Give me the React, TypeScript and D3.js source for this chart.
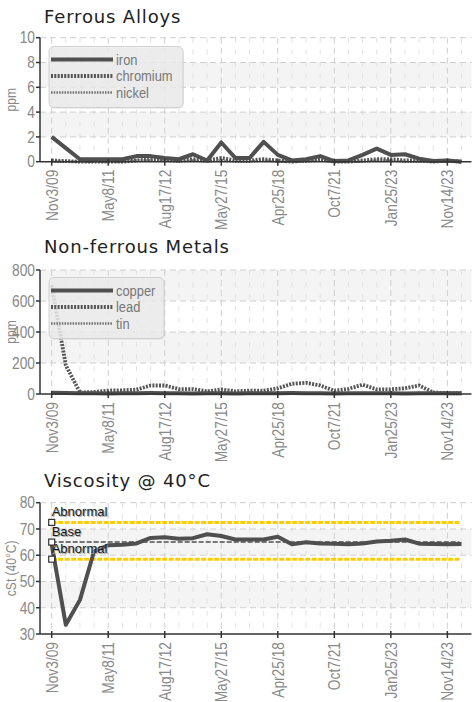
import React from 'react';
import * as d3 from 'd3';

// category axis: one sample per index, label on every 4th
const tickLabels = ['Nov3/09', 'May8/11', 'Aug17/12', 'May27/15', 'Apr25/18', 'Oct7/21', 'Jan25/23', 'Nov14/23'];
const tickEvery = 4;

const iron = [2.0, 1.1, 0.2, 0.2, 0.2, 0.2, 0.45, 0.45, 0.3, 0.2, 0.6, 0.1, 1.55, 0.3, 0.3, 1.6, 0.55, 0.1, 0.2, 0.45, 0.05, 0.1, 0.55, 1.05, 0.55, 0.6, 0.25, 0.05, 0.1, 0];
const chromium = [0.1, 0.05, 0, 0, 0, 0, 0.1, 0.2, 0.2, 0.1, 0.2, 0.1, 0.3, 0.1, 0.1, 0.2, 0.1, 0, 0.1, 0.2, 0, 0, 0.1, 0.2, 0.2, 0.1, 0.1, 0, 0.1, 0];
const nickel = [0, 0, 0, 0, 0, 0, 0.1, 0.1, 0.1, 0, 0.1, 0, 0.1, 0, 0, 0.1, 0, 0, 0, 0.1, 0, 0, 0, 0.1, 0.1, 0, 0, 0, 0, 0];

const copper = [8, 6, 5, 5, 4, 5, 5, 6, 5, 5, 4, 5, 5, 4, 5, 5, 5, 6, 5, 5, 4, 5, 5, 5, 5, 4, 5, 5, 5, 5];
const lead = [700, 185, 10, 13, 22, 24, 28, 55, 55, 32, 32, 17, 30, 17, 22, 21, 37, 66, 72, 55, 21, 33, 60, 30, 30, 37, 55, 10, 5, 5];
const tin = [5, 3, 2, 2, 2, 2, 3, 4, 3, 2, 2, 2, 3, 2, 2, 2, 3, 4, 4, 3, 2, 2, 3, 2, 2, 2, 3, 2, 2, 2];

const viscosity = [64, 33.5, 43, 61.5, 63.8, 64, 64.5, 66.6, 66.8, 66.3, 66.5, 68, 67.3, 66, 66, 66, 67, 64.2, 64.9, 64.5, 64.4, 64.2, 64.5, 65.2, 65.5, 66, 64.4, 64.3, 64.2, 64.3];
const viscLimits = [
  { name: 'Abnormal', value: 72.5, kind: 'limit' },
  { name: 'Base', value: 65, kind: 'base' },
  { name: 'Abnormal', value: 58.5, kind: 'limit' },
];

// no narrow font installed, so squeeze Liberation Sans along the text direction
const narrow = '"Liberation Sans", Arial, sans-serif';
const squeeze = 0.86;

const styles: Record<string, { w: number; dash?: string; color: string }> = {
  solid: { w: 4, color: '#4f4f4f' },
  dots: { w: 3.8, dash: '2,1.3', color: '#555' },
  thin: { w: 2.4, dash: '1.5,1.2', color: '#707070' },
};

const x = d3.scaleLinear().domain([0, 29]).range([51.7, 461.5]);
const axisLeft = 40;
const axisRight = 471.5;
const n = iron.length;

interface Series { name: string; values: number[]; style: string }

interface PanelProps {
  title: string;
  titleY: number;
  top: number;
  bottom: number;
  domain: [number, number];
  step: number;
  yLabel: string;
  series: Series[];
  legend?: { top: number; width: number };
  limits?: typeof viscLimits;
}

const Panel: React.FC<PanelProps> = ({ title, titleY, top, bottom, domain, step, yLabel, series, legend, limits }) => {
  const y = d3.scaleLinear().domain(domain).range([bottom, top]);
  const ticks = d3.range(domain[0], domain[1] + step / 2, step);
  const line = d3.line<number>().x((_, i) => x(i)).y(d => y(d));
  const idx = d3.range(n);

  return (
    <g>
      <text x={44} y={titleY} fontFamily="DejaVu Sans, sans-serif" fontSize={18} letterSpacing={0.85} fill="#222">{title}</text>
      {/* alternating bands */}
      {ticks.slice(0, -1).map((t, i) => i % 2 === 1 ? (
        <rect key={'b' + i} x={axisLeft} y={y(t + step)} width={axisRight - axisLeft} height={y(t) - y(t + step)} fill="#f4f4f4" />
      ) : null)}
      {/* minor vertical grid */}
      {idx.filter(i => i % tickEvery !== 0).map(i => (
        <line key={'m' + i} x1={x(i)} x2={x(i)} y1={top} y2={bottom} stroke="#e2e2e2" strokeDasharray="5,7" />
      ))}
      {tickLabels.map((_, k) => (
        <line key={'v' + k} x1={x(k * tickEvery)} x2={x(k * tickEvery)} y1={top} y2={bottom} stroke="#cfcfcf" strokeDasharray="6,4" />
      ))}
      {ticks.slice(1).map(t => (
        <line key={'h' + t} x1={axisLeft} x2={axisRight} y1={y(t)} y2={y(t)} stroke="#cfcfcf" strokeDasharray="6,4" />
      ))}
      {/* reference lines */}
      {limits && limits.map((l, i) => (
        <line key={'l' + i} x1={x(0)} x2={x(n - 1) - 2} y1={y(l.value)} y2={y(l.value)}
          stroke={l.kind === 'base' ? '#777' : '#ffcc00'} strokeWidth={l.kind === 'base' ? 2 : 3}
          strokeDasharray={l.kind === 'base' ? '5,2' : '5,1.5'} />
      ))}
      {/* series */}
      {series.slice().reverse().map(s => {
        const st = styles[s.style];
        return (
          <path key={s.name} d={line(s.values) || ''} fill="none" stroke={st.color} strokeWidth={st.w}
            strokeDasharray={st.dash} strokeLinejoin="round" />
        );
      })}
      {limits && limits.map((l, i) => (
        <g key={'lm' + i}>
          <rect x={x(0) - 3} y={y(l.value) - 3} width={6} height={6} fill="#fff" stroke="#333" strokeWidth={1.2} />
          <text x={x(0) + 1} y={y(l.value) - 5} fontFamily={narrow} fontSize={13} fill="#aaa">{l.name}</text>
          <text x={x(0)} y={y(l.value) - 6} fontFamily={narrow} fontSize={13} fill="#1a1a1a">{l.name}</text>
        </g>
      ))}
      {/* axes */}
      <line x1={axisLeft} x2={axisLeft} y1={top} y2={bottom} stroke="#333" strokeWidth={1.5} />
      <line x1={axisLeft} x2={axisRight} y1={bottom} y2={bottom} stroke="#333" strokeWidth={1.5} />
      {ticks.map(t => (
        <g key={'yt' + t}>
          <line x1={axisLeft - 4} x2={axisLeft} y1={y(t)} y2={y(t)} stroke="#333" strokeWidth={1.5} />
          <text transform={`translate(${axisLeft - 5},${y(t)}) scale(${squeeze},1)`} dy="0.36em" textAnchor="end"
            fontFamily={narrow} fontSize={16} fill="#888">{t}</text>
        </g>
      ))}
      {tickLabels.map((lab, k) => {
        const px = x(k * tickEvery);
        return (
          <g key={'xt' + k}>
            <line x1={px} x2={px} y1={bottom - 3} y2={bottom + 4} stroke="#333" strokeWidth={1.5} />
            <text transform={`translate(${px + 5.8},${bottom + 8}) rotate(-90) scale(${squeeze},1)`} textAnchor="end"
              fontFamily={narrow} fontSize={16} fill="#888">{lab}</text>
          </g>
        );
      })}
      <text transform={`translate(16,${(top + bottom) / 2}) rotate(-90) scale(${squeeze},1)`} textAnchor="middle"
        fontFamily={narrow} fontSize={14} fill="#888">{yLabel}</text>
      {/* legend */}
      {legend && (
        <g>
          <rect x={50} y={legend.top + 1.5} width={legend.width} height={61} rx={5} fill="#ccc" opacity={0.35} />
          <rect x={49} y={legend.top} width={legend.width} height={61} rx={5} fill="#ececec" fillOpacity={0.78} stroke="#d0d0d0" />
          {series.map((s, i) => {
            const st = styles[s.style];
            const ry = legend.top + 13 + i * 16.5;
            return (
              <g key={'lg' + s.name}>
                <line x1={51} x2={113} y1={ry} y2={ry} stroke={st.color} strokeWidth={st.w} strokeDasharray={st.dash} />
                <text transform={`translate(116,${ry}) scale(${squeeze},1)`} dy="0.35em" fontFamily={narrow} fontSize={15} fill="#777">{s.name}</text>
              </g>
            );
          })}
        </g>
      )}
    </g>
  );
};

export default function App() {
  return (
    <svg width={474} height={702} style={{ position: 'absolute', left: 0, top: 0, background: '#fff' }}>
      <Panel title="Ferrous Alloys" titleY={22.7} top={37.7} bottom={161.7} domain={[0, 10]} step={2} yLabel="ppm"
        series={[{ name: 'iron', values: iron, style: 'solid' }, { name: 'chromium', values: chromium, style: 'dots' }, { name: 'nickel', values: nickel, style: 'thin' }]}
        legend={{ top: 46.5, width: 134 }} />
      <Panel title="Non-ferrous Metals" titleY={253} top={270} bottom={394} domain={[0, 800]} step={200} yLabel="ppm"
        series={[{ name: 'copper', values: copper, style: 'solid' }, { name: 'lead', values: lead, style: 'dots' }, { name: 'tin', values: tin, style: 'thin' }]}
        legend={{ top: 277.5, width: 115 }} />
      <Panel title="Viscosity @ 40°C" titleY={486.7} top={502.7} bottom={634} domain={[30, 80]} step={10} yLabel="cSt (40°C)"
        series={[{ name: 'viscosity', values: viscosity, style: 'solid' }]} limits={viscLimits} />
    </svg>
  );
}
